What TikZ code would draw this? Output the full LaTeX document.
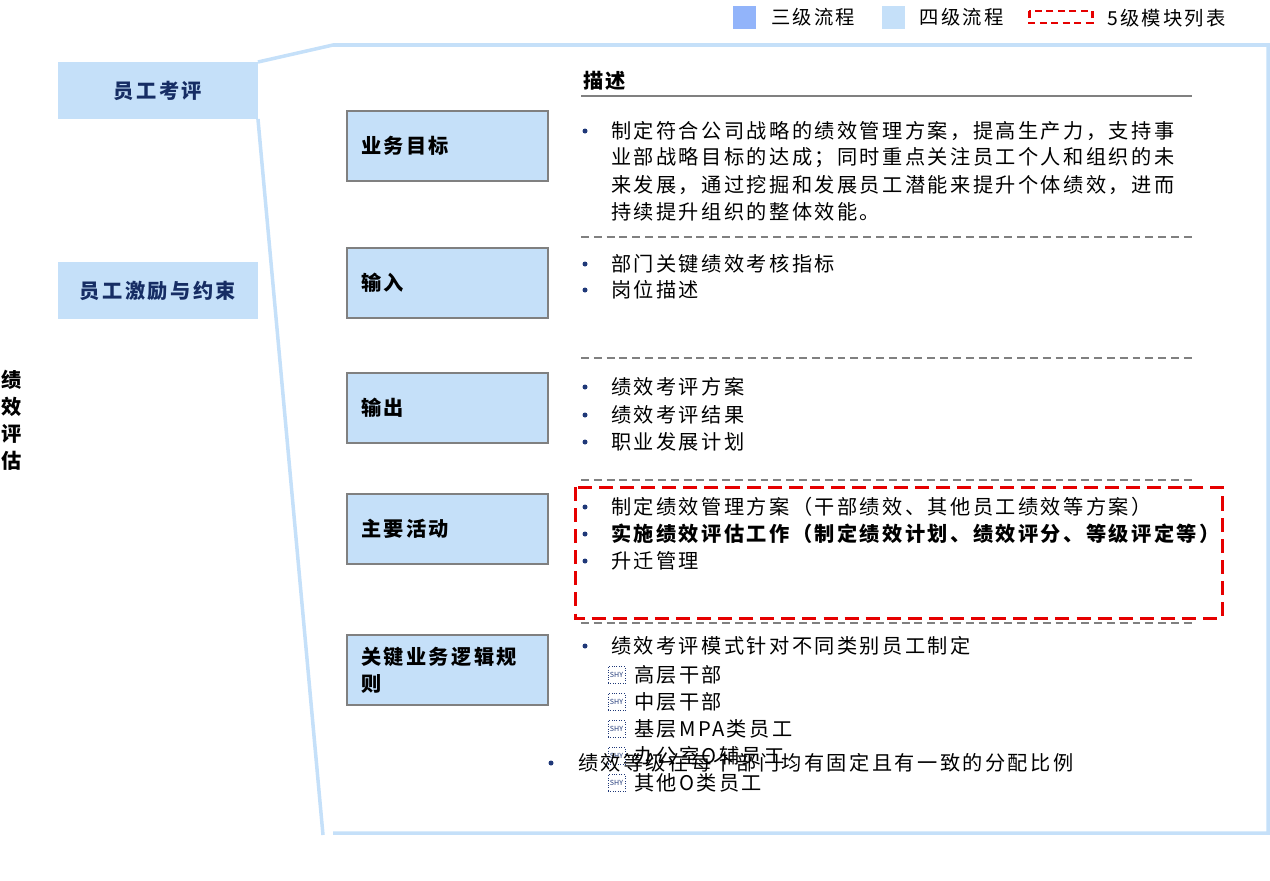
\documentclass[tikz,border=0pt]{standalone}
\usepackage{fontspec}
\setmainfont{Noto Sans CJK SC}[LetterSpace=12]
\usetikzlibrary{positioning}
\definecolor{lvthree}{RGB}{146,180,250}
\definecolor{lvfour}{RGB}{197,224,249}
\definecolor{labnavy}{RGB}{22,45,100}
\definecolor{dotnavy}{RGB}{31,56,120}
\definecolor{rulegray}{RGB}{128,128,128}
\definecolor{modred}{RGB}{230,0,0}

\begin{document}
\begin{tikzpicture}[
    x=0.02cm, y=-0.02cm,
    every node/.style={inner sep=0pt, outer sep=0pt},
    desc/.style={anchor=west, font=\fontsize{11.5}{15.3}\selectfont},
    bdesc/.style={desc, font=\bfseries\fontsize{11.5}{15.3}\selectfont},
    lgtxt/.style={anchor=west, font=\fontsize{11}{12}\selectfont},
    lgsq/.style={minimum size=0.46cm},
    evalbox/.style={fill=lvfour, anchor=north west, minimum width=4cm, minimum height=1.14cm,
                    text=labnavy, font=\bfseries\fontsize{11.5}{15.3}\selectfont},
    rowbox/.style={draw=rulegray, line width=1.2pt, fill=lvfour, anchor=north west,
                   minimum width=4.02cm, minimum height=1.4cm, text width=3.46cm, inner xsep=0.28cm,
                   align=left, font=\bfseries\fontsize{11.5}{15.3}\selectfont},
    bul/.style={circle, fill=dotnavy, minimum size=0.1cm},
    shy/.style={draw=dotnavy, densely dotted, minimum size=0.34cm, text=dotnavy,
                font=\fontsize{4}{4}\selectfont\addfontfeature{LetterSpace=0}},
    sepline/.style={draw=rulegray, line width=1.1pt, dash pattern=on 4.5pt off 2.8pt},
    frame/.style={draw=lvfour, line width=2pt},
    modbox/.style={draw=modred, line width=1.7pt, dash pattern=on 8pt off 4pt}
]
\useasboundingbox (0,0) rectangle (1270,880);

% legend
\node[lgsq, fill=lvthree] (lg3) at (744.5,17.5) {};
\node[lgtxt, right=0.3cm of lg3] (lg3t) {三级流程};
\node[lgsq, fill=lvfour] (lg4) at (893,17.5) {};
\node[lgtxt, right=0.3cm of lg4] (lg4t) {四级流程};
\draw[modbox, dash pattern=on 4pt off 2.5pt] (1029,11) rectangle (1092,23);
\node[lgtxt] (lg5t) at (1107,18) {5级模块列表};

% left side
\node[evalbox] (review) at (58,62) {员工考评};
\node[evalbox] (incent) at (58,262) {员工激励与约束};
\node[align=center, font=\bfseries\fontsize{11.5}{15.3}\selectfont] (perf) at (12,420) {绩\\效\\评\\估};

% bracket frame
\coordinate (frameTL) at (333,45);
\coordinate (frameTR) at (1268,45);
\coordinate (frameBR) at (1268,833);
\coordinate (frameBL) at (333,833);
\coordinate (frameTip) at (323,835);
\draw[frame] (review.north east) -- (frameTL) -- (frameTR) -- (frameBR) -- (frameBL);
\draw[frame] (review.south east) -- (frameTip);

% header
\node[bdesc] (head) at (583,81) {描述};
\draw[rulegray, line width=1.2pt] (581,96) -- (1192,96);

% row boxes
\node[rowbox] (goal) at (347,111) {业务目标};
\node[rowbox] (input) at (347,248) {输入};
\node[rowbox] (output) at (347,373) {输出};
\node[rowbox] (activ) at (347,494) {主要活动};
\node[rowbox] (rules) at (347,635) {关键业务逻辑规\\则};

% separators
\foreach \yy in {237,358,480,623}
    \draw[sepline] (581,\yy) -- (1192,\yy);

% 5th level module
\draw[modbox] (575,487) rectangle (1222,618);

% row 1
\node[bul] (goalb) at (585,131) {};
\foreach \yy/\txt [count=\i] in {131/制定符合公司战略的绩效管理方案，提高生产力，支持事,
        158/业部战略目标的达成；同时重点关注员工个人和组织的未,
        185/来发展，通过挖掘和发展员工潜能来提升个体绩效，进而,
        212/持续提升组织的整体效能。}
    \node[desc] (goal-\i) at (611,\yy) {\txt};

% row 2
\foreach \yy/\txt [count=\i] in {264/部门关键绩效考核指标, 290/岗位描述} {
    \node[bul] (inb-\i) at (585,\yy) {};
    \node[desc] (in-\i) at (611,\yy) {\txt};
}

% row 3
\foreach \yy/\txt [count=\i] in {387/绩效考评方案, 415/绩效考评结果, 442/职业发展计划} {
    \node[bul] (outb-\i) at (585,\yy) {};
    \node[desc] (out-\i) at (611,\yy) {\txt};
}

% row 4
\foreach \yy in {507,534,561}
    \node[bul] at (585,\yy) {};
\node[desc] (act-1) at (611,507) {制定绩效管理方案（干部绩效、其他员工绩效等方案）};
\node[bdesc] (act-2) at (611,534) {实施绩效评估工作（制定绩效计划、绩效评分、等级评定等）};
\node[desc] (act-3) at (611,561) {升迁管理};

% row 5
\node[bul] (ruleb) at (585,646) {};
\node[desc] (rule-0) at (611,646) {绩效考评模式针对不同类别员工制定};
\foreach \yy/\txt [count=\i] in {675/高层干部, 702/中层干部, 729/基层MPA类员工, 756/办公室O辅员工, 783/其他O类员工} {
    \node[shy] (shy-\i) at (616.5,\yy) {SHY};
    \node[desc] (rule-\i) at (634,\yy) {\txt};
}
\node[bul] (quotab) at (551,763) {};
\node[desc] (quota) at (578,763) {绩效等级在每个部门均有固定且有一致的分配比例};

\end{tikzpicture}
\end{document}
